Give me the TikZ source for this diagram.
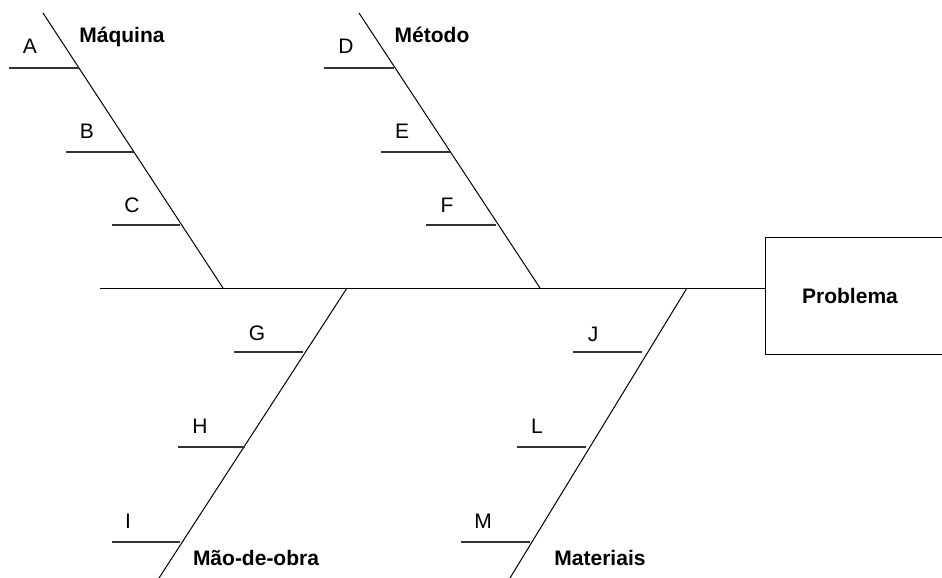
\documentclass[tikz,border=0pt]{standalone}
\usepackage{fontspec}
\setmainfont{Liberation Sans}
\begin{document}
\begin{tikzpicture}[x=1pt,y=-1pt,
  bone/.style={draw=black, line width=1pt},
  rib/.style={draw=black!80, line width=1.2pt},
  cause/.style={font=\fontsize{21}{25}\selectfont\bfseries, inner sep=0pt, anchor=base},
  item/.style={font=\fontsize{21}{25}\selectfont, inner sep=0pt, anchor=base},
  effect/.style={draw=black, line width=1pt, minimum width=182pt, minimum height=117pt,
    inner sep=0pt}]
\clip (0,0) rectangle (942,578);

% effect box (runs off the right edge) and spine
\node[effect] (prob) at (856,295.5) {};
\node[cause] (probtxt) at (850,303) {Problema};
\coordinate (tail) at (100,288);
\draw[bone] (tail) -- (prob.west |- tail);

% upper bones
\coordinate (maqT) at (43,13);   \coordinate (maqB) at (223,288);
\coordinate (metT) at (359,13);  \coordinate (metB) at (540,288);
% lower bones
\coordinate (maoT) at (347,288); \coordinate (maoB) at (159,578);
\coordinate (matT) at (687,288); \coordinate (matB) at (510,578);
\draw[bone] (maqT) -- (maqB);
\draw[bone] (metT) -- (metB);
\draw[bone] (maoT) -- (maoB);
\draw[bone] (matT) -- (matB);

% category labels
\node[cause] (maq) at (122,43) {Máquina};
\node[cause] (met) at (432,43) {Método};
\node[cause] (mao) at (256,565) {Mão-de-obra};
\node[cause] (mat) at (600,565) {Materiais};

% ribs: free end -> point on the bone
\coordinate (a0) at (9,68);    \coordinate (a1) at (79,68);
\coordinate (b0) at (66,152);  \coordinate (b1) at (134,152);
\coordinate (c0) at (112,225); \coordinate (c1) at (180,225);
\coordinate (d0) at (324,68);  \coordinate (d1) at (394,68);
\coordinate (e0) at (381,152); \coordinate (e1) at (450,152);
\coordinate (f0) at (426,225); \coordinate (f1) at (496,225);
\coordinate (g0) at (234,352); \coordinate (g1) at (303,352);
\coordinate (h0) at (178,447); \coordinate (h1) at (245,447);
\coordinate (i0) at (112,542); \coordinate (i1) at (180,542);
\coordinate (j0) at (573,352); \coordinate (j1) at (642,352);
\coordinate (l0) at (517,447); \coordinate (l1) at (586,447);
\coordinate (m0) at (461,542); \coordinate (m1) at (530,542);
\foreach \r in {a,b,c,d,e,f,g,h,i,j,l,m}
  \draw[rib] (\r0) -- (\r1);

% cause items
\node[item] (A) at (30,54)   {A};
\node[item] (B) at (87,138)  {B};
\node[item] (C) at (132,212) {C};
\node[item] (D) at (346,54)  {D};
\node[item] (E) at (402,138) {E};
\node[item] (F) at (447,212) {F};
\node[item] (G) at (257,340) {G};
\node[item] (H) at (200,433) {H};
\node[item] (I) at (128,528) {I};
\node[item] (J) at (593,341) {J};
\node[item] (L) at (537,433) {L};
\node[item] (M) at (483,528) {M};
\end{tikzpicture}
\end{document}
